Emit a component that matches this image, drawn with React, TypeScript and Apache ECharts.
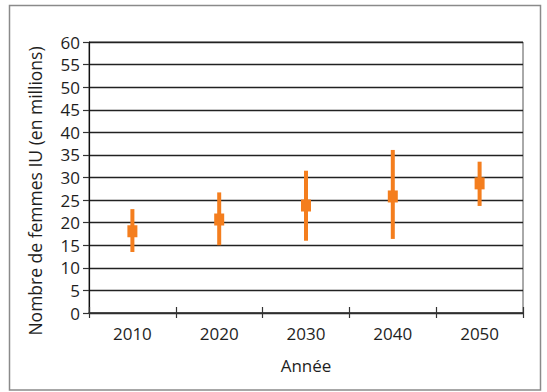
import React, { useEffect, useRef } from "react";
import * as echarts from "echarts";

const categories = ["2010", "2020", "2030", "2040", "2050"];
const centralValues = [18.1, 20.7, 23.8, 25.8, 28.7];
const lowValues = [13.5, 15.0, 16.0, 16.4, 23.7];
const highValues = [23.0, 26.7, 31.5, 36.1, 33.5];

const ORANGE = "#F47E1E";
const FONT = "Open Sans";
const TXT = "#1e1e1e";

export default function App() {
  const ref = useRef<HTMLDivElement>(null);
  useEffect(() => {
    document.body.style.margin = "0";
    const chart = echarts.init(ref.current!, null, { renderer: "svg" });
    const errData = categories.map((c, i) => [i, lowValues[i], highValues[i]]);
    chart.setOption({
      animation: false,
      backgroundColor: "#fff",
      textStyle: { fontFamily: FONT },
      grid: {
        left: 89,
        right: 24,
        top: 42,
        bottom: 79,
        show: true,
        borderColor: "#555",
        borderWidth: 1,
        containLabel: false,
      },
      xAxis: [
        {
          type: "category",
          data: categories,
          boundaryGap: true,
          name: "Année",
          nameLocation: "middle",
          nameGap: 44,
          nameTextStyle: { fontSize: 17, color: TXT, fontFamily: FONT },
          axisLine: { show: true, lineStyle: { color: "#333", width: 1.5 } },
          axisTick: { show: true, length: 5, inside: false, lineStyle: { color: "#333", width: 1.2 } },
          axisLabel: { fontSize: 17, color: TXT, margin: 12, fontFamily: FONT },
          splitLine: { show: false },
        },
        {
          type: "category",
          data: categories,
          position: "bottom",
          boundaryGap: true,
          axisLine: { show: false },
          axisTick: { show: true, length: 6, inside: true, lineStyle: { color: "#333", width: 1.2 } },
          axisLabel: { show: false },
          splitLine: { show: false },
        },
      ],
      yAxis: {
        type: "value",
        min: 0,
        max: 60,
        interval: 5,
        axisLine: { show: true, lineStyle: { color: "#111", width: 1.2 } },
        axisTick: { show: true, length: 6, lineStyle: { color: "#333", width: 1.2 } },
        axisLabel: { fontSize: 17, color: TXT, margin: 9, fontFamily: FONT },
        splitLine: { show: true, lineStyle: { color: "#222", width: 1.3 } },
      },
      graphic: [
        {
          type: "rect",
          shape: { x: 9.5, y: 5.5, width: 531, height: 384.5 },
          style: { fill: "none", stroke: "#8a8a8a", lineWidth: 1.5 },
          silent: true,
        },
        {
          type: "text",
          x: 35,
          y: 191,
          rotation: Math.PI / 2,
          style: {
            text: "Nombre de femmes IU (en millions)",
            fontSize: 17.5,
            fontFamily: FONT,
            fill: TXT,
            align: "center",
            verticalAlign: "middle",
          },
        },
      ],
      series: [
        {
          type: "custom",
          data: errData,
          encode: { x: 0, y: [1, 2] },
          renderItem: (params: any, api: any) => {
            const x = api.value(0);
            const lo = api.coord([x, api.value(1)]);
            const hi = api.coord([x, api.value(2)]);
            return {
              type: "line",
              shape: { x1: lo[0], y1: lo[1], x2: hi[0], y2: hi[1] },
              style: { stroke: ORANGE, lineWidth: 4 },
            };
          },
          z: 3,
        },
        {
          type: "scatter",
          data: centralValues,
          symbol: "rect",
          symbolSize: [10, 12],
          itemStyle: { color: ORANGE, opacity: 1 },
          z: 4,
        },
      ],
    });
    return () => chart.dispose();
  }, []);
  return <div ref={ref} style={{ width: 547, height: 392 }} />;
}
